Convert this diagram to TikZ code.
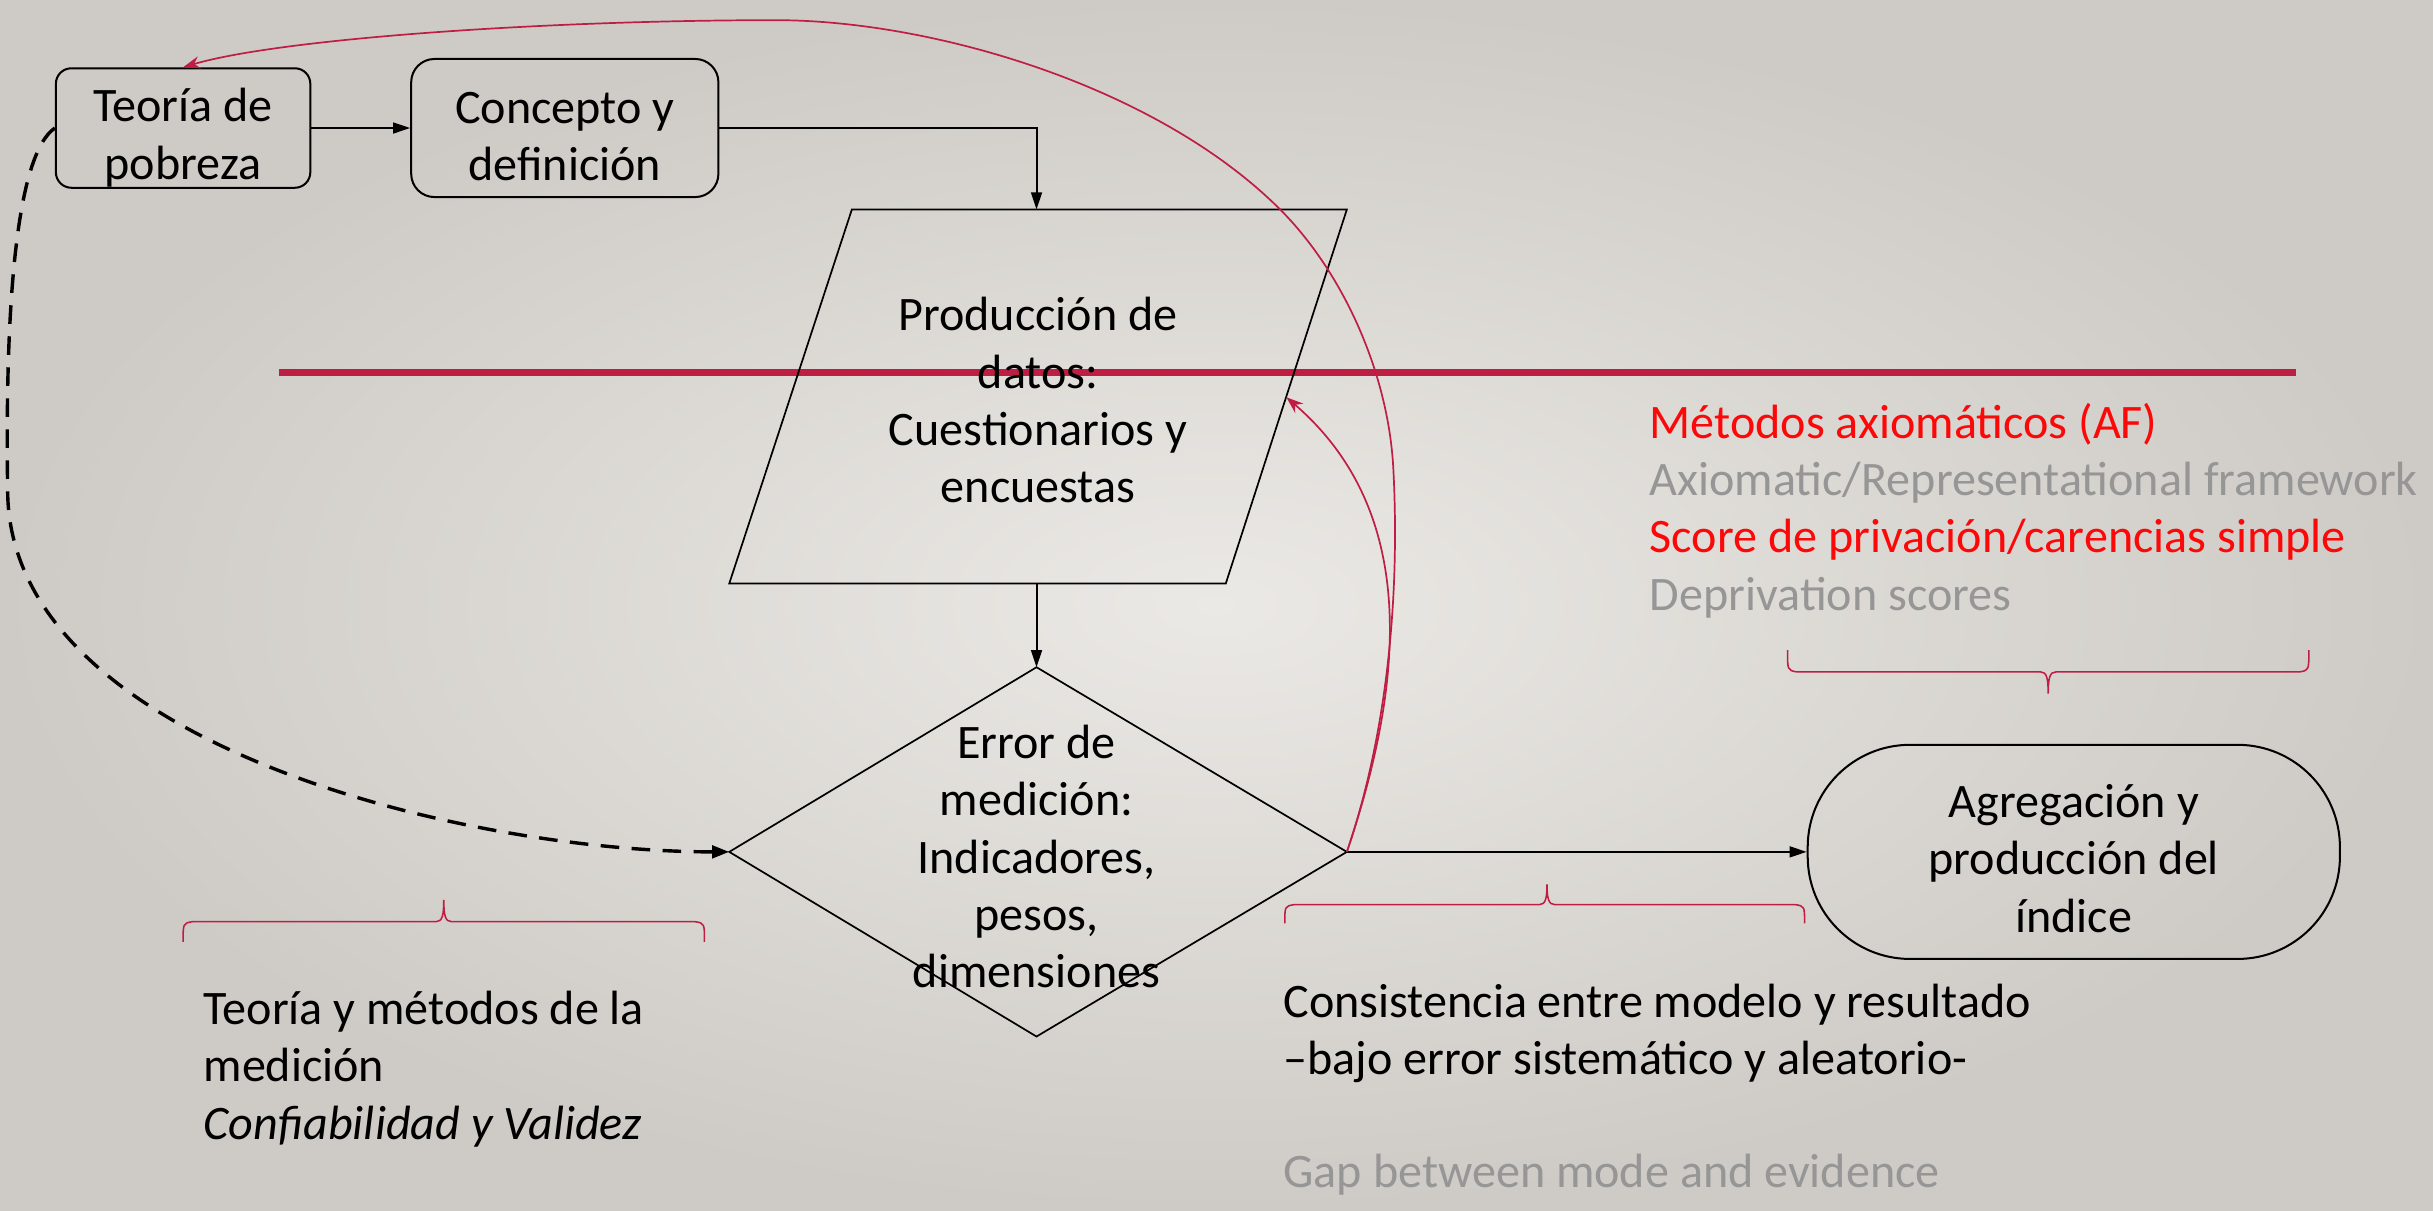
\documentclass[tikz,border=0pt]{standalone}
\usepackage{fontspec}
\setmainfont{Carlito}
\usetikzlibrary{arrows.meta}
\definecolor{crim}{RGB}{190,30,68}
\definecolor{redtxt}{RGB}{252,8,8}
\definecolor{graytxt}{RGB}{150,150,150}
\definecolor{bgin}{RGB}{235,233,229}
\definecolor{bgout}{RGB}{206,203,198}
\begin{document}
\begin{tikzpicture}[x=1pt,y=-1pt,
  txt/.style={font=\fontsize{31}{37}\selectfont,align=center,inner sep=0pt},
  ltxt/.style={font=\fontsize{31}{37}\selectfont,align=left,inner sep=0pt,anchor=west},
  box/.style={draw,line width=1.3pt,txt},
  blk/.style={line width=1.3pt,-{Triangle[length=11pt,width=7pt]}},
  redarr/.style={draw=crim,line width=1.1pt,-{Stealth[length=11pt,width=8pt]}},
  redbrace/.style={draw=crim,line width=1pt}]
\useasboundingbox (0,0) rectangle (1568,780);
\shade[inner color=bgin,outer color=bgout] (0,0) rectangle (1568,780);

% red horizontal line
\draw[crim,line width=4pt] (180,240) -- (1480,240);

% boxes
\node[box,rounded corners=10pt,minimum width=164pt,minimum height=77pt] (teoria) at (118,82.5) {\rule{0pt}{34pt}Teoría de\\pobreza};
\node[box,rounded corners=15pt,minimum width=198pt,minimum height=89pt] (concepto) at (364,82.5) {\rule{0pt}{31pt}Concepto y\\definición};
\node[box,rounded corners=66pt,minimum width=343pt,minimum height=138pt] (agreg) at (1336.5,549) {\rule{0pt}{30pt}Agregación y\\producción del\\índice};

% parallelogram
\coordinate (ptop) at (668,135);
\coordinate (pbot) at (668,376);
\coordinate (prodR) at (829,256);
\draw[line width=1.1pt] (549,135) -- (868,135) -- (790,376) -- (470,376) -- cycle;
\node[txt] (prod) at (669,258) {Producción de\\datos:\\Cuestionarios y\\encuestas};

% diamond
\coordinate (dtop) at (668,430);
\coordinate (dleft) at (470,549);
\coordinate (dright) at (868,549);
\coordinate (dbot) at (668,668);
\draw[line width=1.1pt] (dtop) -- (dright) -- (dbot) -- (dleft) -- cycle;
\node[txt] (err) at (668,552) {Error de\\medición:\\Indicadores,\\pesos,\\dimensiones};

% black connectors
\draw[blk] (teoria.east) -- (concepto.west);
\draw[blk] (concepto.east) -| (ptop);
\draw[blk] (pbot) -- (dtop);
\draw[blk] (dright) -- (agreg.west);

% dashed curve
\draw[line width=2.2pt,dash pattern=on 12pt off 8pt,-{Triangle[length=11pt,width=8pt]}]
  (teoria.west) .. controls (10,100) and (3,200) .. (5,320)
  .. controls (10,480) and (300,549) .. (dleft);

% red curves
\draw[redarr] (dright) .. controls (895,470) and (902,380) .. (898,303)
  .. controls (895,240) and (865,175) .. (825,135)
  .. controls (745,55) and (600,13) .. (500,13)
  .. controls (350,13) and (180,25) .. (teoria.north);
\draw[redarr] (dright) .. controls (905,440) and (915,330) .. (prodR);

% braces
\draw[redbrace] (118,607) .. controls (118,595) .. (124,594) -- (281,594)
  .. controls (285,594) and (286,590) .. (286,580)
  .. controls (286,590) and (287,594) .. (291,594) -- (448,594)
  .. controls (454,595) .. (454,607);
\draw[redbrace] (828,595) .. controls (828,584) .. (834,583) -- (992,583)
  .. controls (996,583) and (997,579) .. (997,570)
  .. controls (997,579) and (998,583) .. (1002,583) -- (1157,583)
  .. controls (1163,584) .. (1163,595);
\draw[redbrace] (1152,419) .. controls (1152,432) .. (1158,433) -- (1315,433)
  .. controls (1319,433) and (1320,437) .. (1320,447)
  .. controls (1320,437) and (1321,433) .. (1325,433) -- (1482,433)
  .. controls (1488,432) .. (1488,419);

% texts
\node[ltxt] (t1) at (131,689) {Teoría y métodos de la\\medición\\\textit{Confiabilidad y Validez}};
\node[ltxt] (t2) at (827,666) {Consistencia entre modelo y resultado\\–bajo error sistemático y aleatorio-};
\node[ltxt,text=graytxt] (t3) at (827,757) {Gap between mode and evidence};
\node[ltxt] (t4) at (1063,329) {\textcolor{redtxt}{Métodos axiomáticos (AF)}\\\textcolor{graytxt}{Axiomatic/Representational framework}\\\textcolor{redtxt}{Score de privación/carencias simple}\\\textcolor{graytxt}{Deprivation scores}};
\end{tikzpicture}
\end{document}
